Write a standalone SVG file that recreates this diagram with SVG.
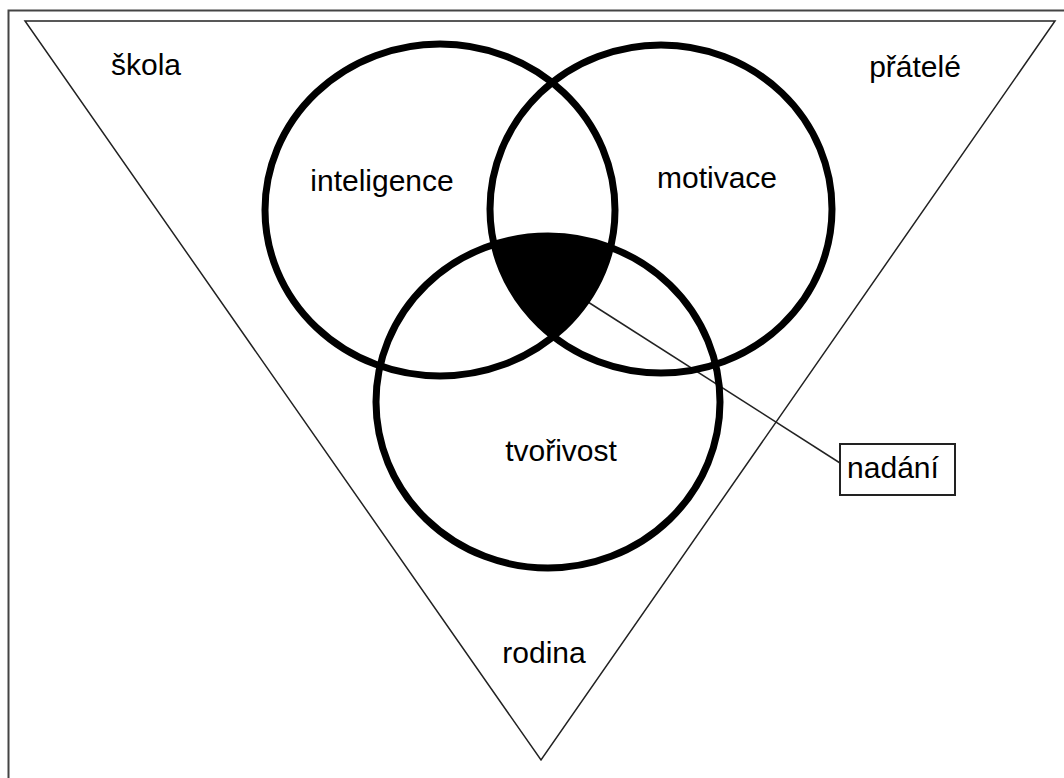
<svg xmlns="http://www.w3.org/2000/svg" width="1064" height="778" viewBox="0 0 1064 778">
<style>
.t{font-family:"Liberation Sans",Arial,sans-serif;font-size:30px;fill:#000;text-anchor:middle}
.c{fill:none;stroke:#000;stroke-width:7}
.thin{fill:none;stroke:#222;stroke-width:1.5}
</style>
<defs>
<clipPath id="c1"><ellipse cx="440" cy="210" rx="175" ry="166"/></clipPath>
<clipPath id="c2"><ellipse cx="661" cy="209" rx="171" ry="164"/></clipPath>
</defs>
<rect x="0" y="0" width="1064" height="778" fill="#fff"/>
<rect x="8.5" y="10.5" width="1100" height="800" fill="none" stroke="#444" stroke-width="2"/>
<g id="triangle"><polygon class="thin" points="25,21 1055,21 541,760"/></g>
<g id="labels-outer">
<text class="t" x="146" y="75">škola</text>
<text class="t" x="915" y="77">přátelé</text>
<text class="t" x="544" y="663">rodina</text>
</g>
<g id="core">
<g clip-path="url(#c1)"><g clip-path="url(#c2)"><ellipse cx="548" cy="402" rx="172" ry="166" fill="#000"/></g></g>
</g>
<g id="connectors"><line class="thin" x1="588" y1="302" x2="840" y2="463"/></g>
<g id="inteligence"><ellipse class="c" cx="440" cy="210" rx="175" ry="166"/><text class="t" x="382" y="191">inteligence</text></g>
<g id="motivace"><ellipse class="c" cx="661" cy="209" rx="171" ry="164"/><text class="t" x="717" y="188">motivace</text></g>
<g id="tvorivost"><ellipse class="c" cx="548" cy="402" rx="172" ry="166"/><text class="t" x="561" y="461">tvořivost</text></g>
<g id="nadani"><rect x="840" y="444" width="115" height="51" fill="#fff" stroke="#222" stroke-width="2"/><text class="t" x="893" y="478">nadání</text></g>
</svg>
